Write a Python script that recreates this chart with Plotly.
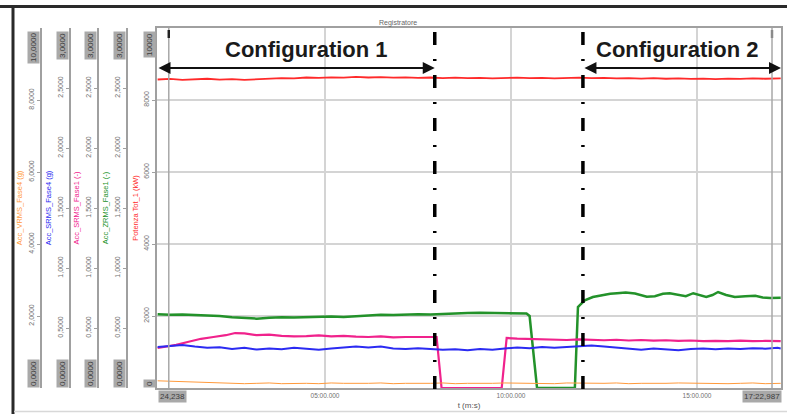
import plotly.graph_objects as go

W, H = 787, 414

# ---------------- data ----------------
# common sampling instants (s) for the slowly varying channels
t_common = list(range(30, 1031, 20)) + [1035]

potenza_tot = [8570, 8585, 8560, 8575, 8590, 8565, 8580, 8560, 8575, 8595,
               8610, 8600, 8625, 8615, 8630, 8620, 8640, 8625, 8635, 8620,
               8630, 8615, 8625, 8610, 8620, 8605, 8615, 8600, 8612, 8620,
               8605, 8615, 8600, 8610, 8620, 8605, 8615, 8600, 8610, 8595,
               8605, 8590, 8600, 8585, 8595, 8580, 8595, 8585, 8600, 8590,
               8595, 8600]

srms_fase4 = [0.342, 0.35, 0.358, 0.345, 0.335, 0.34, 0.325, 0.335, 0.32, 0.33,
              0.322, 0.335, 0.328, 0.318, 0.33, 0.34, 0.345, 0.338, 0.345, 0.33,
              0.325, 0.332, 0.328, 0.318, 0.322, 0.315, 0.325, 0.318, 0.33, 0.338,
              0.332, 0.342, 0.335, 0.34, 0.35, 0.355, 0.345, 0.335, 0.325, 0.318,
              0.33, 0.32, 0.315, 0.325, 0.33, 0.322, 0.33, 0.325, 0.332, 0.328,
              0.335, 0.33]

vrms_fase4 = [0.20, 0.19, 0.16, 0.15, 0.14, 0.13, 0.14, 0.12, 0.13, 0.14,
              0.12, 0.13, 0.13, 0.12, 0.14, 0.13, 0.12, 0.13, 0.14, 0.12,
              0.13, 0.12, 0.13, 0.14, 0.12, 0.13, 0.12, 0.13, 0.14, 0.13,
              0.12, 0.13, 0.12, 0.14, 0.13, 0.12, 0.13, 0.14, 0.12, 0.13,
              0.12, 0.13, 0.14, 0.13, 0.12, 0.13, 0.12, 0.13, 0.14, 0.12,
              0.13, 0.13]

t_srms_fase1 = [30, 50, 60, 80, 100, 120, 140, 155, 170, 190,
                210, 230, 250, 270, 290, 310, 330, 350, 370, 390,
                410, 430, 450, 470, 480, 488, 585, 593, 610, 630,
                650, 670, 690, 710, 730, 750, 770, 790, 810, 830,
                850, 870, 890, 910, 930, 950, 970, 990, 1010, 1035]
srms_fase1 = [0.333, 0.35, 0.36, 0.385, 0.41, 0.425, 0.44, 0.458, 0.455, 0.44,
              0.445, 0.435, 0.43, 0.432, 0.438, 0.43, 0.435, 0.428, 0.425, 0.43,
              0.422, 0.425, 0.428, 0.425, 0.425, 0.0, 0.0, 0.417, 0.412, 0.408,
              0.41, 0.405, 0.40, 0.405, 0.40, 0.398, 0.402, 0.396, 0.40, 0.395,
              0.398, 0.392, 0.396, 0.39, 0.393, 0.39, 0.395, 0.39, 0.392, 0.39]

t_zrms_fase1 = [30, 50, 70, 90, 110, 130, 150, 170, 190, 210,
                230, 250, 270, 290, 310, 330, 350, 370, 390, 410,
                430, 450, 470, 490, 510, 530, 550, 570, 590, 610,
                625, 630, 642, 703, 708, 711, 719, 732, 748, 760,
                771, 785, 800, 819, 832, 845, 856, 870, 882, 894,
                905, 915, 925, 934, 947, 961, 978, 994, 1006, 1018,
                1035]
zrms_fase1 = [0.615, 0.61, 0.612, 0.608, 0.605, 0.60, 0.59, 0.585, 0.578, 0.585,
              0.59, 0.588, 0.592, 0.59, 0.595, 0.592, 0.60, 0.605, 0.61, 0.608,
              0.612, 0.615, 0.612, 0.618, 0.622, 0.625, 0.628, 0.625, 0.628, 0.625,
              0.62, 0.60, 0.0, 0.0, 0.675, 0.69, 0.73, 0.758, 0.775, 0.785,
              0.79, 0.795, 0.788, 0.76, 0.765, 0.785, 0.79, 0.775, 0.765, 0.79,
              0.772, 0.758, 0.775, 0.80, 0.775, 0.758, 0.765, 0.768, 0.755, 0.75,
              0.752]

# time axis
x_range = [29, 1035.5]
x_tickvals = [300, 600, 900]
x_ticktext = ["05:00.000", "10:00.000", "15:00.000"]
x_start_label = "24,238"
x_end_label = "17:22,987"
cursor_times = [48, 1021]

# configuration boundaries (s) and labels
config_bounds = [477, 716]
config_labels = ["Configuration 1", "Configuration 2"]
config_label_t = [270, 868]

# value axes
ticks_10 = [2, 4, 6, 8]
ticktext_10 = ["2,0000", "4,0000", "6,0000", "8,0000"]
ticks_3 = [0.5, 1.0, 1.5, 2.0, 2.5]
ticktext_3 = ["0,5000", "1,0000", "1,5000", "2,0000", "2,5000"]
ticks_kw = [2000, 4000, 6000, 8000]
ticktext_kw = ["2000", "4000", "6000", "8000"]


def px(xp):
    return xp / W


def py(yp):
    return 1 - yp / H


PLOT_L, PLOT_R, PLOT_T, PLOT_B = 157, 781, 28, 388
Y_DOM = [py(PLOT_B), py(PLOT_T)]
FONT = "Liberation Sans, Arial, sans-serif"

channels = [
    dict(axis="y5", key="yaxis5", line_x=41, title="Acc_VRMS_Fase4 (g)", color="#FF9A3C",
         rng=[0, 10], vals=ticks_10, text=ticktext_10, lo="0,0000", hi="10,0000",
         t=t_common, v=vrms_fase4, width=1),
    dict(axis="y4", key="yaxis4", line_x=70, title="Acc_SRMS_Fase4 (g)", color="#2B2BF2",
         rng=[0, 3], vals=ticks_3, text=ticktext_3, lo="0,0000", hi="3,0000",
         t=t_common, v=srms_fase4, width=2),
    dict(axis="y3", key="yaxis3", line_x=98, title="Acc_SRMS_Fase1 (-)", color="#F0228C",
         rng=[0, 3], vals=ticks_3, text=ticktext_3, lo="0,0000", hi="3,0000",
         t=t_srms_fase1, v=srms_fase1, width=2.2),
    dict(axis="y2", key="yaxis2", line_x=127, title="Acc_ZRMS_Fase1 (-)", color="#23922A",
         rng=[0, 3], vals=ticks_3, text=ticktext_3, lo="0,0000", hi="3,0000",
         t=t_zrms_fase1, v=zrms_fase1, width=2.5),
]

fig = go.Figure()

# power channel on the main axis
fig.add_trace(go.Scatter(x=t_common, y=potenza_tot, mode="lines", yaxis="y",
                         line=dict(color="#FF2A2A", width=1.8), hoverinfo="skip"))
for ch in channels:
    fig.add_trace(go.Scatter(x=ch["t"], y=ch["v"], mode="lines", yaxis=ch["axis"],
                             line=dict(color=ch["color"], width=ch["width"]),
                             hoverinfo="skip"))

axis_common = dict(
    domain=Y_DOM, showline=True, linecolor="#a0a0a0", linewidth=1.5,
    ticks="outside", ticklen=3, tickcolor="#a0a0a0", tickangle=-90,
    tickfont=dict(size=7, color="#707070", family=FONT),
    zeroline=False, fixedrange=True,
)

layout = dict(
    width=W, height=H, margin=dict(l=0, r=0, t=0, b=0),
    paper_bgcolor="white", plot_bgcolor="white", showlegend=False,
    font=dict(family=FONT),
    xaxis=dict(domain=[px(PLOT_L), px(PLOT_R)], range=x_range,
               tickvals=x_tickvals, ticktext=x_ticktext,
               showgrid=True, gridcolor="#d4d4d4", gridwidth=1.5,
               showline=True, linecolor="#a0a0a0", linewidth=1.5, mirror=True,
               ticks="", tickfont=dict(size=6.5, color="#707070"),
               zeroline=False,
               title=dict(text="t (m:s)", font=dict(size=8, color="#555555"), standoff=5)),
    yaxis=dict(axis_common, range=[0, 10000], tickvals=ticks_kw, ticktext=ticktext_kw,
               anchor="x", side="left", mirror=True, showgrid=True,
               gridcolor="#d4d4d4", gridwidth=1.5,
               title=dict(text="Potenza Tot_1 (kW)", font=dict(size=7.5, color="#FF2A2A"),
                          standoff=4)),
)
for ch in channels:
    layout[ch["key"]] = dict(axis_common, range=ch["rng"], tickvals=ch["vals"],
                             ticktext=ch["text"], anchor="free", overlaying="y",
                             side="left", position=px(ch["line_x"]), showgrid=False,
                             title=dict(text=ch["title"],
                                        font=dict(size=7.5, color=ch["color"]),
                                        standoff=4))
fig.update_layout(**layout)

annotations = []
box = dict(bgcolor="#a9a9a9", font=dict(size=8, color="#3c3c3c", family=FONT),
           borderpad=1, showarrow=False, xref="paper", yref="paper", textangle=-90)

# range boxes at the ends of each value axis
for line_x, lo, hi in [(c["line_x"], c["lo"], c["hi"]) for c in channels] + [(PLOT_L, "0", "10000")]:
    annotations.append(dict(box, text=hi, x=px(line_x - 1), xanchor="right",
                            y=py(PLOT_T + 3), yanchor="top"))
    annotations.append(dict(box, text=lo, x=px(line_x - 1), xanchor="right",
                            y=py(PLOT_B), yanchor="bottom"))

# range boxes at both ends of the time axis
annotations.append(dict(box, textangle=0, text=x_start_label, x=px(PLOT_L + 1), xanchor="left",
                        y=py(PLOT_B + 2), yanchor="top"))
annotations.append(dict(box, textangle=0, text=x_end_label, x=px(PLOT_R + 1), xanchor="right",
                        y=py(PLOT_B + 2), yanchor="top"))

annotations.append(dict(text="Registratore", x=px(398), y=py(23), xref="paper", yref="paper",
                        xanchor="center", yanchor="middle",
                        showarrow=False, font=dict(size=7, color="#666666")))

# configuration spans: double-headed arrows and labels
spans = [(x_range[0], config_bounds[0]), (config_bounds[1], x_range[1])]
for (a, b), label, lt in zip(spans, config_labels, config_label_t):
    annotations.append(dict(x=b, y=py(68), xref="x", yref="paper",
                            ax=a, ay=0, axref="x", ayref="pixel", text="",
                            showarrow=True, arrowside="end+start", arrowhead=2,
                            startarrowhead=2, arrowsize=1.2, startarrowsize=1.2,
                            arrowwidth=2, arrowcolor="#111111", standoff=0, startstandoff=0))
    annotations.append(dict(x=lt, y=py(50), xref="x", yref="paper", text=label,
                            xanchor="center", yanchor="middle", showarrow=False,
                            font=dict(size=22, color="#1a1a1a", family=FONT, weight="bold")))

fig.update_layout(annotations=annotations)

shapes = []
# window frame
shapes.append(dict(type="rect", xref="paper", yref="paper", x0=px(0), x1=1,
                   y0=py(8), y1=py(5), line=dict(width=0), fillcolor="#2a2a2a"))
shapes.append(dict(type="rect", xref="paper", yref="paper", x0=px(11.5), x1=px(14.5),
                   y0=0, y1=py(5), line=dict(width=0), fillcolor="#2a2a2a"))
shapes.append(dict(type="line", xref="paper", yref="paper", x0=px(14), x1=1,
                   y0=py(411.5), y1=py(411.5), line=dict(color="#d8d8d8", width=1.5)))
# cursors
for i, ct in enumerate(cursor_times):
    shapes.append(dict(type="line", xref="x", yref="paper", x0=ct, x1=ct,
                       y0=py(PLOT_B), y1=py(PLOT_T), line=dict(color="#a8a8a8", width=1.5)))
    shapes.append(dict(type="line", xref="x", yref="paper", x0=ct, x1=ct,
                       y0=py(38), y1=py(30),
                       line=dict(color="#222222" if i == 0 else "#8a8a8a", width=2.5)))
# configuration boundaries
for b in config_bounds:
    shapes.append(dict(type="line", xref="x", yref="paper", x0=b, x1=b,
                       y0=py(32), y1=py(392),
                       line=dict(color="black", width=3.5, dash="13px,14px,2px,14px")))
fig.update_layout(shapes=shapes)

fig.write_html("out.html")
